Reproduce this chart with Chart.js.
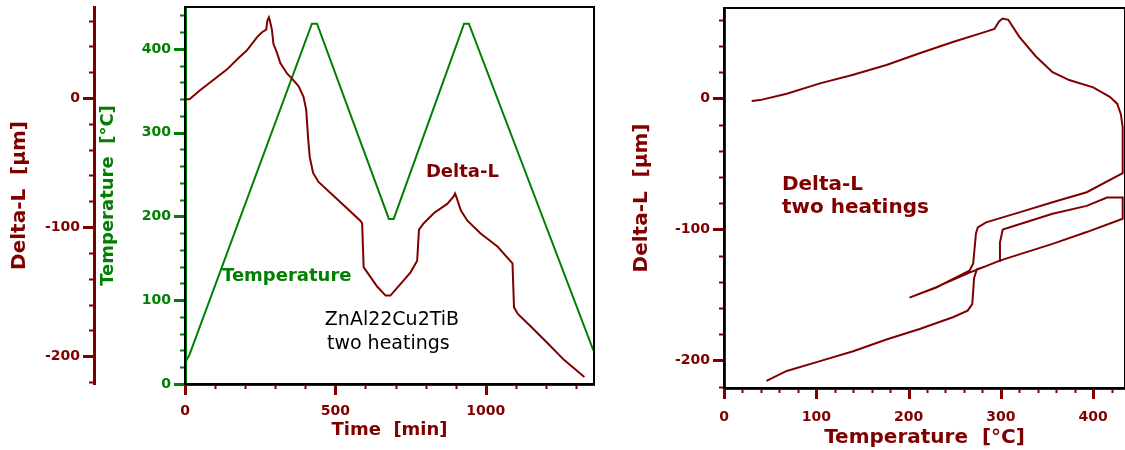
<!DOCTYPE html>
<html>
<head>
<meta charset="utf-8">
<script src="https://cdn.jsdelivr.net/npm/chart.js@4.4.1/dist/chart.umd.min.js"></script>
<style>
  body { margin: 0; background: #fff; }
  canvas { position: absolute; top: 0; }
</style>
</head>
<body>
<canvas id="leftChart" width="600" height="450" style="left:0"></canvas>
<canvas id="rightChart" width="505" height="450" style="left:620px"></canvas>
<script>
// --- left panel: Delta-L and temperature against time ---
let timeDL = [0, 15, 50, 94, 139, 178, 206, 239, 256, 270, 274, 279, 283, 289, 294, 306, 317, 339, 356, 378, 394, 403, 410, 415, 426, 444, 500, 583, 589, 594, 606, 639, 667, 683, 717, 750, 772, 778, 794, 828, 872, 894, 898, 903, 917, 939, 983, 1039, 1089, 1094, 1106, 1150, 1206, 1261, 1328];
let deltaLTime = [-1, -1, 6, 14, 22, 31, 37, 47, 51, 53, 60, 62.5, 59, 53, 42, 35, 27, 19, 15, 9, 1, -9, -33, -46, -58, -65, -77, -95, -97, -131, -135, -146, -153, -153, -144, -135, -126, -102, -97, -89, -82, -76, -74, -77, -87, -95, -105, -115, -128, -162, -167, -177, -190, -203, -216];

let timeT = [0, 15, 422, 439, 678, 694, 928, 944, 1358];
let tempTime = [25, 35, 430, 430, 197, 197, 430, 430, 40];

// --- right panel: Delta-L against temperature (two heatings) ---
let tempCurve = [30, 39, 68, 104, 140, 176, 212, 248, 284, 293, 298, 302, 308, 320, 338, 356, 374, 400, 418, 426, 430, 432,
  432, 393, 356, 320, 284, 275, 273, 270, 266, 230, 201,
  230, 266, 284, 298, 299, 302, 320, 356, 393, 415, 432,
  432, 393, 356, 320, 298, 284, 274, 271, 269, 264, 248, 212, 176, 140, 104, 68, 46];
let deltaLCurve = [-2, -1.3, 3.6, 11.5, 18, 25.5, 34.5, 43, 51, 53, 58.7, 61, 60, 47, 32, 20, 14, 8.4, 1.2, -4, -12, -22,
  -57, -71.6, -79.2, -87, -94.6, -98.4, -103, -126, -131.5, -144.3, -152,
  -144, -133, -128, -124, -110, -100, -96, -88, -82, -75.6, -75.6,
  -91.8, -102, -111, -119, -124, -128, -130.4, -137, -157, -162, -167, -176, -184, -193, -200.5, -208, -215.6];

let brown = '#800000';
let green = '#008000';

Chart.defaults.font.family = "'DejaVu Sans', sans-serif";
Chart.defaults.font.weight = 'bold';
Chart.defaults.font.size = 14;

// ticks, frame and text labels drawn on top of the chart
let makeOverlay = function (majorSteps, notes, xId, yId) {
    return {
        id: 'overlay',
        afterDraw: function (chart) {
            let ctx = chart.ctx;
            let a = chart.chartArea;
            ctx.save();
            Object.values(chart.scales).forEach(function (s) {
                let major = majorSteps[s.id];
                if (!major) return;
                ctx.strokeStyle = s.options.border.color;
                s.ticks.forEach(function (t) {
                    let isMajor = Math.abs(t.value % major) < 1e-6;
                    let len = isMajor ? 11 : 5;
                    ctx.lineWidth = isMajor ? 3 : 2;
                    let p = Math.round(s.getPixelForValue(t.value)) + 0.5;
                    ctx.beginPath();
                    if (s.isHorizontal()) {
                        ctx.moveTo(p, s.top);
                        ctx.lineTo(p, s.top + len);
                    } else {
                        ctx.moveTo(s.right, p);
                        ctx.lineTo(s.right - len, p);
                    }
                    ctx.stroke();
                });
            });
            ctx.strokeStyle = '#000';
            ctx.lineWidth = 2;
            ctx.strokeRect(a.left, a.top, a.right - a.left, a.bottom - a.top);
            ctx.textAlign = 'left';
            ctx.textBaseline = 'alphabetic';
            notes.forEach(function (n) {
                ctx.font = n.font;
                ctx.fillStyle = n.color;
                ctx.fillText(n.text, chart.scales[xId].getPixelForValue(n.x), chart.scales[yId].getPixelForValue(n.y));
            });
            ctx.restore();
        }
    };
};

// fixed axis box size, and no extra room for half labels at the ends
let fixSize = function (size) {
    return function (s) {
        if (s.isHorizontal()) {
            s.height = size;
            s.paddingLeft = 0;
            s.paddingRight = 0;
        } else {
            s.width = size;
            s.paddingTop = 0;
            s.paddingBottom = 0;
        }
    };
};

let axisBase = function (color, min, max, step, labelStep, titleText, titleSize, titlePad) {
    return {
        type: 'linear',
        min: min,
        max: max,
        border: { display: true, color: color, width: 3 },
        grid: { display: true, drawOnChartArea: false, drawTicks: false },
        ticks: {
            stepSize: step,
            includeBounds: false,
            autoSkip: false,
            maxRotation: 0,
            color: color,
            padding: 14,
            font: { size: 14, weight: 'bold' },
            callback: function (v) { return v % labelStep === 0 ? v : ''; }
        },
        title: {
            display: true,
            text: titleText,
            color: color,
            font: { size: titleSize, weight: 'bold' },
            padding: titlePad
        }
    };
};

let xTime = axisBase(brown, 0, 1360, 100, 500, 'Time  [min]', 18, { top: 0, bottom: 9 });
xTime.position = 'bottom';
xTime.ticks.padding = 19;
xTime.afterFit = fixSize(66);

let yTemp = axisBase(green, 0, 450, 20, 100, 'Temperature  [°C]', 18, { top: 4, bottom: 0 });
yTemp.position = 'left';
yTemp.weight = 0;
yTemp.afterFit = fixSize(91);

let yDelta = axisBase(brown, -221.5, 70.5, 20, 100, 'Delta-L  [µm]', 20, { top: 8, bottom: 0 });
yDelta.position = 'left';
yDelta.weight = 1;
yDelta.afterFit = fixSize(94);

let leftNotes = [
    { text: 'Delta-L', x: 801, y: 247, color: brown, font: "bold 18px 'DejaVu Sans'" },
    { text: 'Temperature', x: 123, y: 123, color: green, font: "bold 18px 'DejaVu Sans'" },
    { text: 'ZnAl22Cu2TiB', x: 465, y: 70, color: '#000', font: "19px 'DejaVu Sans'" },
    { text: 'two heatings', x: 472, y: 42, color: '#000', font: "19px 'DejaVu Sans'" }
];

new Chart(document.getElementById('leftChart'), {
    type: 'scatter',
    data: {
        datasets: [{
            label: 'Delta-L',
            data: timeDL.map(function (t, i) { return { x: t, y: deltaLTime[i] }; }),
            yAxisID: 'yD',
            showLine: true,
            borderColor: brown,
            borderWidth: 2,
            pointRadius: 0
        }, {
            label: 'Temperature',
            data: timeT.map(function (t, i) { return { x: t, y: tempTime[i] }; }),
            yAxisID: 'yT',
            showLine: true,
            borderColor: green,
            borderWidth: 2,
            pointRadius: 0
        }]
    },
    options: {
        responsive: false,
        animation: false,
        layout: { padding: { top: 7, right: 6, bottom: 0, left: 0 } },
        plugins: { legend: { display: false }, tooltip: { enabled: false } },
        scales: { x: xTime, yT: yTemp, yD: yDelta }
    },
    plugins: [makeOverlay({ x: 500, yT: 100, yD: 100 }, leftNotes, 'x', 'yT')]
});

let xTempR = axisBase(brown, 0, 434.5, 20, 100, 'Temperature  [°C]', 20, { top: 0, bottom: 0 });
xTempR.position = 'bottom';
xTempR.ticks.padding = 21;
xTempR.afterFit = fixSize(62);

let yDeltaR = axisBase(brown, -221, 69, 20, 100, 'Delta-L  [µm]', 20, { top: 10, bottom: 0 });
yDeltaR.position = 'left';
yDeltaR.afterFit = fixSize(104);

let rightNotes = [
    { text: 'Delta-L', x: 62.8, y: -70, color: brown, font: "bold 20px 'DejaVu Sans'" },
    { text: 'two heatings', x: 62.8, y: -87.6, color: brown, font: "bold 20px 'DejaVu Sans'" }
];

new Chart(document.getElementById('rightChart'), {
    type: 'scatter',
    data: {
        datasets: [{
            label: 'Delta-L',
            data: tempCurve.map(function (t, i) { return { x: t, y: deltaLCurve[i] }; }),
            showLine: true,
            borderColor: brown,
            borderWidth: 2,
            pointRadius: 0
        }]
    },
    options: {
        responsive: false,
        animation: false,
        layout: { padding: { top: 8, right: 0, bottom: 0, left: 0 } },
        plugins: { legend: { display: false }, tooltip: { enabled: false } },
        scales: { x: xTempR, y: yDeltaR }
    },
    plugins: [makeOverlay({ x: 100, y: 100 }, rightNotes, 'x', 'y')]
});
</script>
</body>
</html>
